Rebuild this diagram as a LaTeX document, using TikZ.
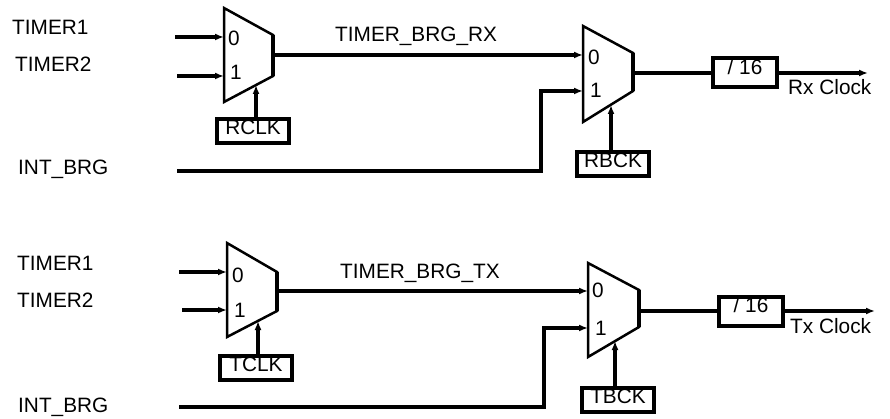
\documentclass[tikz,border=0pt]{standalone}
\usepackage{fontspec}
\setmainfont{Liberation Sans}
\usetikzlibrary{arrows.meta}
\begin{document}
\begin{tikzpicture}[x=1pt,y=-1pt,
  font=\fontsize{20.8}{24}\selectfont,
  wire/.style={line width=3.2},
  arr/.style={line width=3.2,-{Latex[length=9,width=7]}},
  muxe/.style={line width=2.5,line join=miter},
  muxr/.style={line width=4},
  lbl/.style={anchor=base west,inner sep=0},
  regbox/.style={draw,line width=4,minimum width=72,minimum height=24,inner sep=0,
                 text height=14,text depth=7.6},
  divbox/.style={draw,line width=4,minimum width=64,minimum height=29,inner sep=0,
                 text height=14,text depth=11}]
\useasboundingbox (0,0) rectangle (890,419);

% ---------------- top (Rx) ----------------
\node[lbl] (t1r) at (12,35) {TIMER1};
\node[lbl] (t2r) at (15,72) {TIMER2};
\node[lbl] (ibr) at (18,175) {INT\_BRG};

% mux 1
\draw[muxe] (224,8) -- (273,35) -- (273,76) -- (224,102) -- cycle;
\draw[muxr] (273,35) -- (273,76);
\coordinate (m1i0) at (224,37);
\coordinate (m1i1) at (224,76);
\coordinate (m1o) at (273,55);
\coordinate (m1s) at (256,85);
\node[lbl] (m1l0) at (228,46) {0};
\node[lbl] (m1l1) at (230,80) {1};
\coordinate (a1) at (175,37);
\coordinate (a2) at (177,76);
\draw[arr] (a1) -- (m1i0);
\draw[arr] (a2) -- (m1i1);
\node[regbox] (rclk) at (253,131) {RCLK\hspace{8pt}};
\draw[arr] (m1s |- rclk.north) -- (m1s);

% mux 2
\draw[muxe] (583,26) -- (633,53) -- (633,91) -- (583,122) -- cycle;
\draw[muxr] (633,53) -- (633,91);
\coordinate (m2i0) at (583,55);
\coordinate (m2i1) at (583,91);
\coordinate (m2o) at (633,73);
\coordinate (m2s) at (611,105);
\node[lbl] (m2l0) at (588,65) {0};
\node[lbl] (m2l1) at (590,98) {1};

\draw[arr] (m1o) -- (m2i0);
\node[lbl] (tbrx) at (335,42) {TIMER\_BRG\_RX};

\coordinate (a3) at (177,171);
\coordinate (k1) at (541,171);
\draw[arr] (a3) -- (k1) -- (k1 |- m2i1) -- (m2i1);

\node[regbox] (rbck) at (613,164) {RBCK\hspace{8pt}};
\draw[arr] (m2s |- rbck.north) -- (m2s);

\node[divbox] (div1) at (745,73) {/ 16\hspace{10pt}};
\draw[wire] (m2o) -- (div1.west);
\coordinate (rxo) at (868,73);
\draw[arr] (div1.east) -- (rxo);
\node[lbl] (rxl) at (788,95) {Rx Clock};

% ---------------- bottom (Tx) ----------------
\node[lbl] (t1t) at (17,270) {TIMER1};
\node[lbl] (t2t) at (17,307) {TIMER2};
\node[lbl] (ibt) at (18,412) {INT\_BRG};

% mux 3
\draw[muxe] (227,243) -- (277,272) -- (277,311) -- (227,337) -- cycle;
\draw[muxr] (277,272) -- (277,311);
\coordinate (m3i0) at (227,272);
\coordinate (m3i1) at (227,310);
\coordinate (m3o) at (277,291);
\coordinate (m3s) at (258,321);
\node[lbl] (m3l0) at (232,282) {0};
\node[lbl] (m3l1) at (234,317) {1};
\coordinate (b1) at (179,272);
\coordinate (b2) at (182,310);
\draw[arr] (b1) -- (m3i0);
\draw[arr] (b2) -- (m3i1);
\node[regbox] (tclk) at (256,368) {TCLK\hspace{8pt}};
\draw[arr] (m3s |- tclk.north) -- (m3s);

% mux 4
\draw[muxe] (588,263) -- (639,290) -- (639,327) -- (588,357) -- cycle;
\draw[muxr] (639,290) -- (639,327);
\coordinate (m4i0) at (588,291);
\coordinate (m4i1) at (588,328);
\coordinate (m4o) at (639,311);
\coordinate (m4s) at (615,341);
\node[lbl] (m4l0) at (592,298) {0};
\node[lbl] (m4l1) at (595,335) {1};

\draw[arr] (m3o) -- (m4i0);
\node[lbl] (tbtx) at (340,279) {TIMER\_BRG\_TX};

\coordinate (b3) at (179,407);
\coordinate (k2) at (544,407);
\draw[arr] (b3) -- (k2) -- (k2 |- m4i1) -- (m4i1);

\node[regbox] (tbck) at (618,400) {TBCK\hspace{8pt}};
\draw[arr] (m4s |- tbck.north) -- (m4s);

\node[divbox] (div2) at (751,311) {/ 16\hspace{12pt}};
\draw[wire] (m4o) -- (div2.west);
\coordinate (txo) at (875,311);
\draw[arr] (div2.east) -- (txo);
\node[lbl] (txl) at (790,333) {Tx Clock};
\end{tikzpicture}
\end{document}
